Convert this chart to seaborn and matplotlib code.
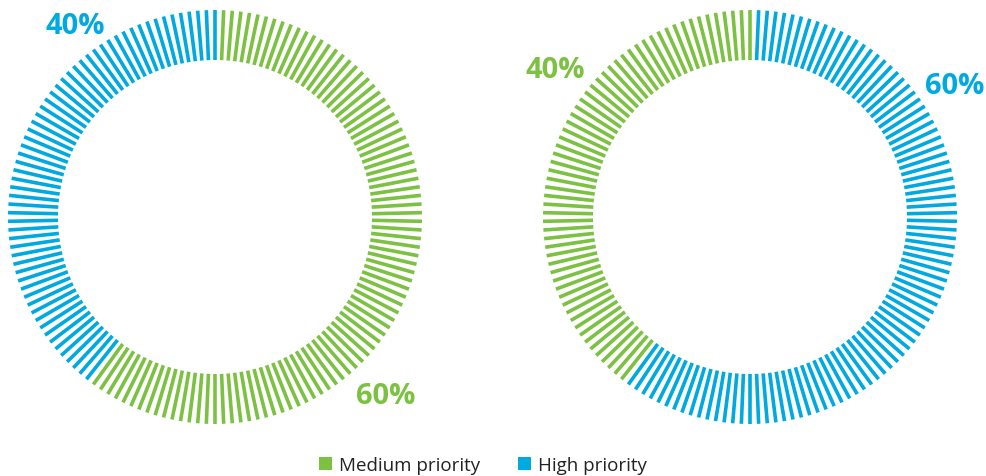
import numpy as np
import pandas as pd
import matplotlib
matplotlib.use("Agg")
import matplotlib.pyplot as plt
from matplotlib.patches import Patch
import seaborn as sns

# Shares of each priority level, listed clockwise from 12 o'clock
left_categories = ["Medium priority", "High priority"]
left_shares = [60, 40]
right_categories = ["High priority", "Medium priority"]
right_shares = [60, 40]

legend_labels = ["Medium priority", "High priority"]
colors = {"Medium priority": "#7CC142", "High priority": "#00A9E0"}

N_TICKS = 150
R_IN, R_OUT = 157, 207

sns.set_theme(style="white")
plt.rcParams["font.family"] = ["Open Sans", "DejaVu Sans"]

W, H = 986, 477
fig = plt.figure(figsize=(W / 100, H / 100), dpi=100)


def tick_frame(categories, shares):
    """One row per tick end-point; tick N sits at the top and closes the ring."""
    counts = [round(s / 100 * N_TICKS) for s in shares]
    owner = []
    for cat, n in zip(categories, counts):
        owner += [cat] * n
    rows = []
    for k in range(1, N_TICKS + 1):
        theta = 2 * np.pi * k / N_TICKS
        for r in (R_IN, R_OUT):
            rows.append({"tick": k, "theta": theta, "r": r, "priority": owner[k - 1]})
    return pd.DataFrame(rows)


def ring(cx, cy, categories, shares):
    ax = fig.add_axes([(cx - R_OUT) / W, (H - cy - R_OUT) / H,
                       2 * R_OUT / W, 2 * R_OUT / H], projection="polar")
    ax.set_theta_zero_location("N")
    ax.set_theta_direction(-1)
    df = tick_frame(categories, shares)
    sns.lineplot(data=df, x="theta", y="r", hue="priority", units="tick",
                 estimator=None, sort=False, palette=colors, linewidth=2.6,
                 legend=False, ax=ax, solid_capstyle="butt", clip_on=False)
    ax.set_ylim(0, R_OUT)
    ax.set_axis_off()
    return ax


ring(215, 218, left_categories, left_shares)
ring(750, 218, right_categories, right_shares)


def label(x, y, text, color):
    fig.text(x / W, 1 - y / H, text, color=color, fontsize=21,
             fontweight="bold", ha="center", va="center")


label(75, 27, f"{left_shares[1]}%", colors["High priority"])
label(386, 397, f"{left_shares[0]}%", colors["Medium priority"])
label(555, 71, f"{right_shares[1]}%", colors["Medium priority"])
label(955, 87, f"{right_shares[0]}%", colors["High priority"])

handles = [Patch(facecolor=colors[c], edgecolor="none") for c in legend_labels]
fig.legend(handles, legend_labels, loc="center", bbox_to_anchor=(483 / W, 1 - 466 / H),
           ncol=2, frameon=False, fontsize=13.5, handlelength=0.7, handleheight=0.7,
           handletextpad=0.4, columnspacing=2.0, labelcolor="#222222")

fig.savefig("out.png", dpi=100, facecolor="white")
